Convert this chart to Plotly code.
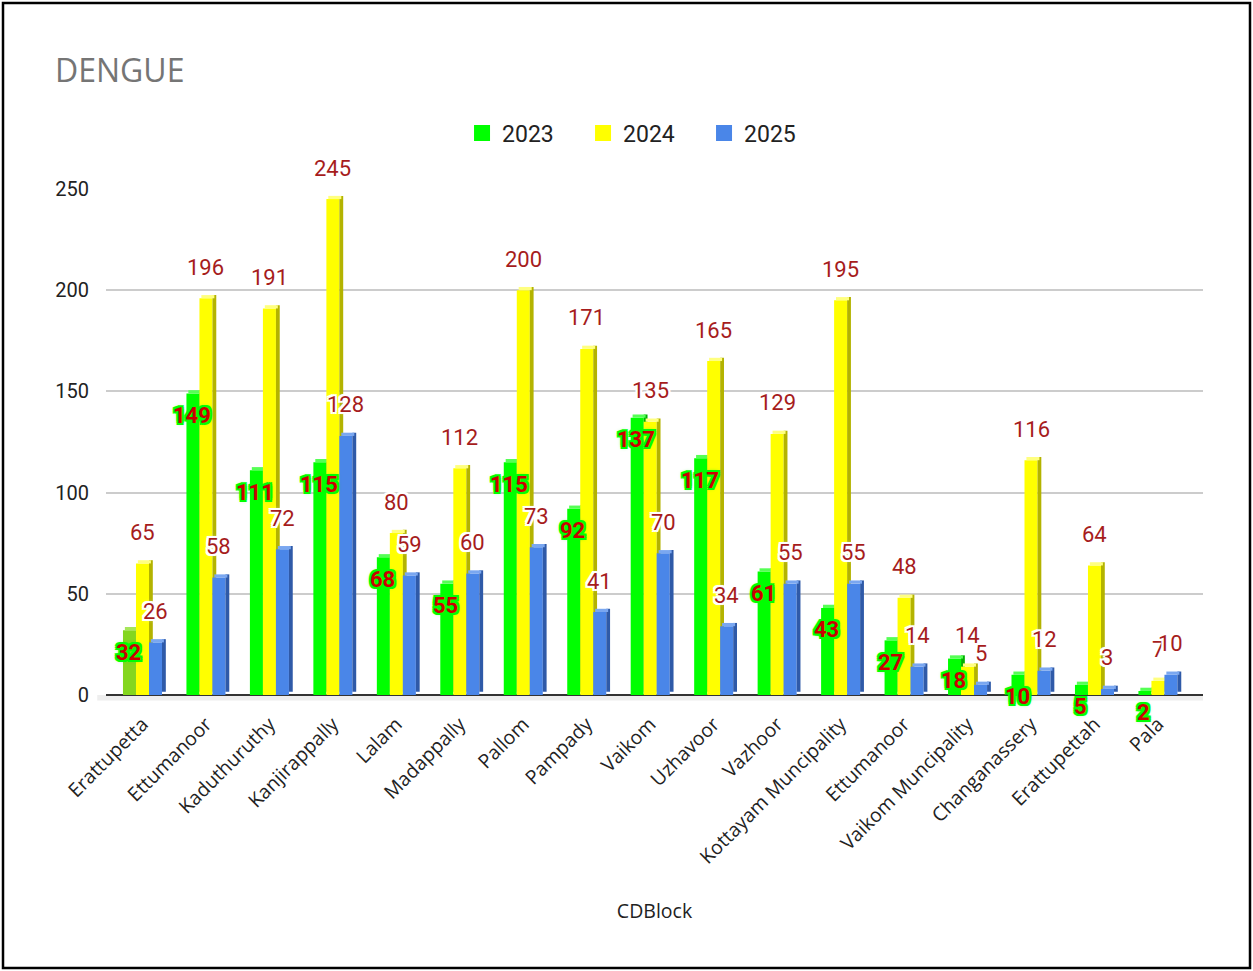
import plotly.graph_objects as go

categories = ["Erattupetta", "Ettumanoor", "Kaduthuruthy", "Kanjirappally", "Lalam",
              "Madappally", "Pallom", "Pampady", "Vaikom", "Uzhavoor", "Vazhoor",
              "Kottayam Muncipality", "Ettumanoor", "Vaikom Muncipality",
              "Changanassery", "Erattupettah", "Pala"]
y2023 = [32, 149, 111, 115, 68, 55, 115, 92, 137, 117, 61, 43, 27, 18, 10, 5, 2]
y2024 = [65, 196, 191, 245, 80, 112, 200, 171, 135, 165, 129, 195, 48, 14, 116, 64, 7]
y2025 = [26, 58, 72, 128, 59, 60, 73, 41, 70, 34, 55, 55, 14, 5, 12, 3, 10]
series_names = ["2023", "2024", "2025"]
yticks = [0, 50, 100, 150, 200, 250]

x = list(range(len(categories)))

# geometry (in category units / value units)
FACE_W = 0.205
SIDE_W = 0.06
DEPTH = 1.6
offsets = [-0.3075, -0.1025, 0.1025]

face_colors = [["#84d61f"] + ["#00ff00"] * (len(x) - 1), "#ffff00", "#4a86e8"]
side_colors = [["#5e9a16"] + ["#00b000"] * (len(x) - 1), "#b3b300", "#2f5aa8"]
top_colors = [["#a6e65a"] + ["#55ff55"] * (len(x) - 1), "#ffff80", "#7aa7f0"]

fig = go.Figure()
for s, vals in enumerate([y2023, y2024, y2025]):
    off = offsets[s]
    # front face
    fig.add_trace(go.Bar(x=x, y=vals, offset=off, width=FACE_W,
                         marker=dict(color=face_colors[s], line=dict(width=0)),
                         showlegend=False, hoverinfo="skip"))
    # side face (3D depth)
    fig.add_trace(go.Bar(x=x, y=vals, base=[DEPTH] * len(x), offset=off + FACE_W,
                         width=SIDE_W,
                         marker=dict(color=side_colors[s], line=dict(width=0)),
                         showlegend=False, hoverinfo="skip"))
    # top face
    fig.add_trace(go.Bar(x=x, y=[DEPTH] * len(x), base=vals, offset=off + SIDE_W / 2,
                         width=FACE_W,
                         marker=dict(color=top_colors[s], line=dict(width=0)),
                         showlegend=False, hoverinfo="skip"))

# legend entries
for name, col in zip(series_names, ["#00ff00", "#ffff00", "#4a86e8"]):
    fig.add_trace(go.Scatter(x=[None], y=[None], mode="markers", name=name,
                             marker=dict(symbol="square", size=22, color=col,
                                         line=dict(width=0))))

def halo(c, r=2):
    parts = []
    for dx in (-r, 0, r):
        for dy in (-r, 0, r):
            if dx or dy:
                parts.append(f"{dx}px {dy}px 0 {c}")
    parts.append(f"0 0 4px {c}")
    return ", ".join(parts)

annotations = []
for i, v in enumerate(y2023):
    annotations.append(dict(x=i + offsets[0] + FACE_W / 2, y=v, xref="x", yref="y",
                            text=str(v), showarrow=False, yshift=-22, xshift=-1,
                            font=dict(family="Roboto", size=22, color="#cc0000",
                                      weight="bold", shadow=halo("#00ff00"))))
for i, v in enumerate(y2024):
    annotations.append(dict(x=i + offsets[1] + FACE_W / 2, y=v, xref="x", yref="y",
                            text=str(v), showarrow=False, yshift=31,
                            font=dict(family="Roboto", size=22, color="#a61c1c",
                                      shadow=halo("#ffffff"))))
for i, v in enumerate(y2025):
    annotations.append(dict(x=i + offsets[2] + FACE_W / 2, y=v, xref="x", yref="y",
                            text=str(v), showarrow=False, yshift=31,
                            font=dict(family="Roboto", size=22, color="#a61c1c",
                                      shadow=halo("#ffffff"))))

fig.update_layout(
    width=1253, height=971,
    margin=dict(l=106, r=50, t=189, b=276, autoexpand=False),
    paper_bgcolor="white", plot_bgcolor="white",
    barmode="overlay",
    title=dict(text="DENGUE", x=55 / 1253, xanchor="left", y=1 - 71 / 971,
               yanchor="middle", xref="container", yref="container",
               font=dict(family="Open Sans", size=32, color="#757575")),
    legend=dict(orientation="h", x=0.49, xanchor="center", y=1.1107,
                yanchor="middle", font=dict(family="Roboto", size=23, color="#222222"),
                itemwidth=30, entrywidth=76, entrywidthmode="pixels"),
    xaxis=dict(range=[-0.575, 16.71], tickmode="array", tickvals=x,
               ticktext=categories, tickangle=-45, showgrid=False, zeroline=False,
               showline=False, ticks="", ticklabelstandoff=13,
               tickfont=dict(family="Open Sans", size=19.5, color="#222222"),
               title=dict(text="CDBlock", standoff=36,
                          font=dict(family="Open Sans", size=19.5, color="#222222"))),
    yaxis=dict(range=[0, 250], tickmode="array", tickvals=yticks,
               showgrid=True, gridcolor="#cccccc", gridwidth=1.5,
               zeroline=True, zerolinecolor="#333333", zerolinewidth=2,
               showline=False, ticks="", ticklabelstandoff=16,
               tickfont=dict(family="Roboto", size=20, color="#222222")),
    annotations=annotations,
    shapes=[
        dict(type="rect", xref="paper", yref="paper",
             x0=(3 - 106) / 1097, x1=(1250 - 106) / 1097,
             y0=(695 - 968) / 506, y1=(695 - 3) / 506,
             line=dict(color="black", width=2.5), fillcolor="rgba(0,0,0,0)"),
        dict(type="rect", xref="paper", yref="paper", layer="below",
             x0=-0.008, x1=1.0, y0=-0.011, y1=0,
             line=dict(width=0), fillcolor="#eeeeee"),
    ],
)

fig.write_html("out.html")
